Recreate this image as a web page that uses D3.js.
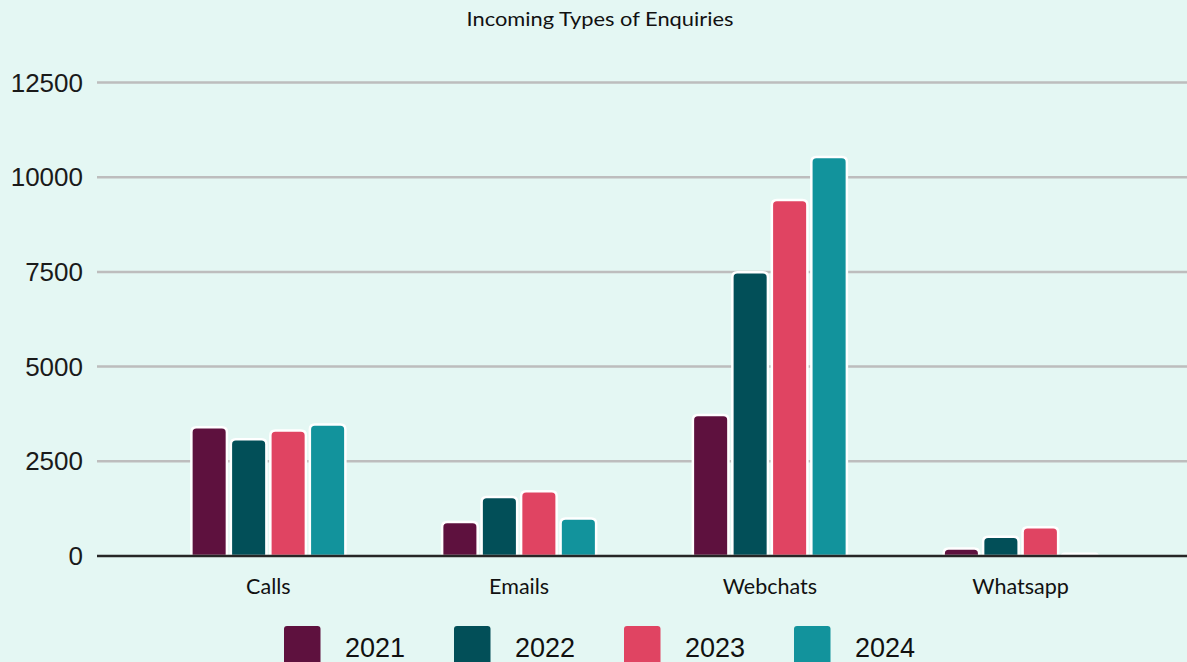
<!DOCTYPE html>
<html>
<head>
<meta charset="utf-8">
<script src="https://cdn.jsdelivr.net/npm/d3@7"></script>
<style>
  html, body { margin: 0; padding: 0; background: #e4f7f3; }
  svg { display: block; }
</style>
</head>
<body>
<svg id="chart" width="1187" height="662"></svg>
<script>
const categories = ["Calls", "Emails", "Webchats", "Whatsapp"];
const years = ["2021", "2022", "2023", "2024"];
const values2021 = [3400, 900, 3720, 200];
const values2022 = [3080, 1560, 7490, 510];
const values2023 = [3310, 1710, 9400, 760];
const values2024 = [3470, 990, 10530, 60];
const yTicks = [0, 2500, 5000, 7500, 10000, 12500];
const colors = ["#5e113e", "#024f58", "#e04462", "#12939c"];

const seriesValues = [values2021, values2022, values2023, values2024];

const svg = d3.select("#chart");
const width = +svg.attr("width");
const height = +svg.attr("height");

const gridLeft = 97;
const y = d3.scaleLinear().domain([0, 12500]).range([556, 82.5]);
const x0 = d3.scaleBand().domain(categories).range([143, 1146]);
const x1 = d3.scaleBand().domain(years).range([-77, 77]).paddingInner(0.1);
const color = d3.scaleOrdinal().domain(years).range(colors);

// background
svg.append("rect").attr("width", width).attr("height", height).attr("fill", "#e4f7f3");

// title
svg.append("text")
    .attr("x", 600)
    .attr("y", 26)
    .attr("text-anchor", "middle")
    .attr("font-family", "Lato, 'Open Sans', sans-serif")
    .attr("font-size", 20)
    .attr("fill", "#111")
    .attr("textLength", 267)
    .attr("lengthAdjust", "spacingAndGlyphs")
    .text("Incoming Types of Enquiries");

// gridlines
svg.append("g")
    .selectAll("line")
    .data(yTicks.filter(d => d > 0))
    .enter().append("line")
    .attr("x1", gridLeft)
    .attr("x2", width)
    .attr("y1", d => y(d))
    .attr("y2", d => y(d))
    .attr("stroke", "#bdbdbd")
    .attr("stroke-width", 2.5);

// y tick labels
svg.append("g")
    .selectAll("text")
    .data(yTicks)
    .enter().append("text")
    .attr("x", 83)
    .attr("y", d => y(d))
    .attr("dy", "0.35em")
    .attr("text-anchor", "end")
    .attr("font-family", "'Liberation Sans', Arial, sans-serif")
    .attr("font-size", 26)
    .attr("fill", "#1a1a1a")
    .text(d => d);

// bar path with rounded top corners
function barPath(bx, by, bw, bh) {
    const r = Math.min(5, bh, bw / 2);
    return `M${bx},${by + bh}` +
        `V${by + r}` +
        `Q${bx},${by} ${bx + r},${by}` +
        `H${bx + bw - r}` +
        `Q${bx + bw},${by} ${bx + bw},${by + r}` +
        `V${by + bh}Z`;
}

const barData = [];
categories.forEach((cat, i) => {
    years.forEach((yr, j) => {
        barData.push({ cat: cat, year: yr, value: seriesValues[j][i] });
    });
});

svg.append("g")
    .selectAll("path")
    .data(barData)
    .enter().append("path")
    .attr("d", d => {
        const bx = x0(d.cat) + x0.bandwidth() / 2 + x1(d.year);
        const by = y(d.value);
        return barPath(bx, by, x1.bandwidth(), y(0) - by);
    })
    .attr("fill", d => color(d.year))
    .attr("stroke", "#ffffff")
    .attr("stroke-width", 2.5)
    .attr("stroke-linejoin", "round");

// zero axis line
svg.append("line")
    .attr("x1", gridLeft)
    .attr("x2", width)
    .attr("y1", y(0))
    .attr("y2", y(0))
    .attr("stroke", "#262626")
    .attr("stroke-width", 2.5);

// category labels
svg.append("g")
    .selectAll("text")
    .data(categories)
    .enter().append("text")
    .attr("x", d => x0(d) + x0.bandwidth() / 2)
    .attr("y", 594)
    .attr("text-anchor", "middle")
    .attr("font-family", "Lato, 'Open Sans', sans-serif")
    .attr("font-size", 21.5)
    .attr("fill", "#111")
    .text(d => d);

// legend
const legend = svg.append("g")
    .selectAll("g")
    .data(years)
    .enter().append("g")
    .attr("transform", (d, i) => `translate(${284 + i * 170},0)`);

legend.append("rect")
    .attr("x", 0)
    .attr("y", 626)
    .attr("width", 36.5)
    .attr("height", 45)
    .attr("rx", 3)
    .attr("fill", d => color(d));

legend.append("text")
    .attr("x", 61)
    .attr("y", 656.5)
    .attr("font-family", "'Liberation Sans', Arial, sans-serif")
    .attr("font-size", 27)
    .attr("fill", "#111")
    .text(d => d);
</script>
</body>
</html>
